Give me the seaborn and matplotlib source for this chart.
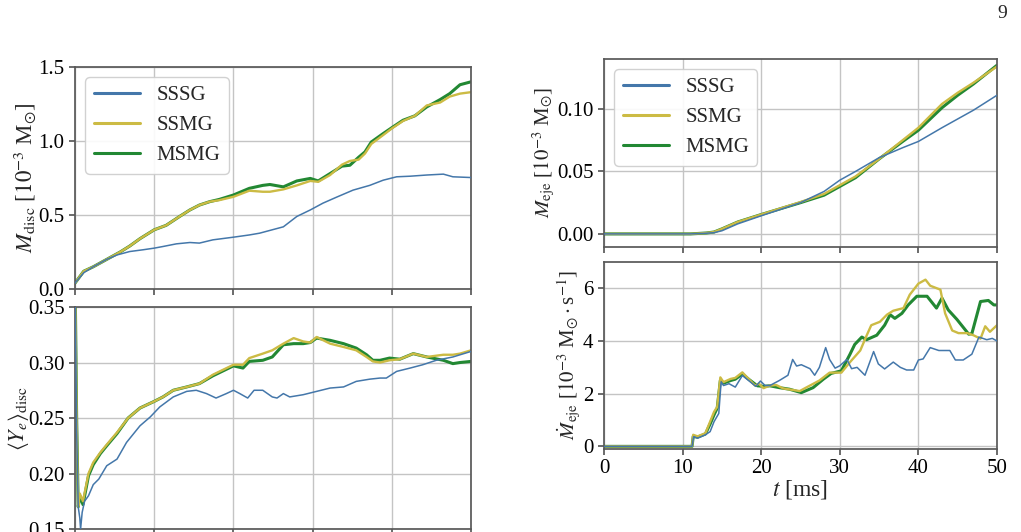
import matplotlib
matplotlib.use("Agg")
import numpy as np
import pandas as pd
import seaborn as sns
import matplotlib.pyplot as plt

# Colores y grosores de las tres simulaciones
colores = {"SSSG": "#4477AA", "SSMG": "#CCBB44", "MSMG": "#228833"}
grosores = {"SSSG": 1.1, "SSMG": 1.7, "MSMG": 2.2}
capas = {"SSSG": 3.0, "SSMG": 2.5, "MSMG": 2.0}

# ---------------- M_disc (arriba izquierda) ----------------
t_disc = [0, 1.1, 2.3, 4.0, 5.7, 6.9, 8.2, 10, 11.5, 13.2, 14.5, 15.7, 17, 18.2, 20, 22, 23.7,
          24.6, 26.3, 28, 29.7, 30.7, 32.2, 33.7, 34.7, 35.8, 36.6, 37.4, 38.9, 40, 41.4, 42.9,
          44.4, 46.1, 47.3, 48.6, 50]
mdisc_ssmg = [0.04, 0.12, 0.15, 0.20, 0.25, 0.29, 0.34, 0.40, 0.43, 0.49, 0.534, 0.567, 0.59,
              0.60, 0.623, 0.664, 0.657, 0.657, 0.673, 0.70, 0.73, 0.724, 0.77, 0.84, 0.865,
              0.874, 0.915, 0.98, 1.04, 1.085, 1.135, 1.17, 1.24, 1.26, 1.30, 1.32, 1.33]
mdisc_msmg = [0.04, 0.12, 0.15, 0.20, 0.25, 0.29, 0.34, 0.40, 0.43, 0.49, 0.534, 0.567, 0.59,
              0.605, 0.635, 0.68, 0.70, 0.706, 0.69, 0.73, 0.747, 0.73, 0.78, 0.83, 0.836, 0.89,
              0.926, 0.993, 1.05, 1.09, 1.14, 1.17, 1.23, 1.28, 1.32, 1.38, 1.40]
t_disc_sssg = [0, 1.1, 2.3, 4.0, 5.3, 6.9, 8.6, 10, 11.1, 12.8, 14.5, 15.7, 17.4, 20, 22, 23.3,
               24.9, 26.3, 28, 29.7, 31.3, 33, 35.1, 37.2, 38.9, 40.6, 42.3, 44.4, 46.5, 47.7, 50]
mdisc_sssg = [0.04, 0.11, 0.15, 0.20, 0.23, 0.253, 0.265, 0.276, 0.287, 0.305, 0.314, 0.31,
              0.332, 0.35, 0.365, 0.377, 0.40, 0.42, 0.49, 0.534, 0.58, 0.62, 0.668, 0.70, 0.735,
              0.758, 0.762, 0.77, 0.776, 0.758, 0.753]

# ---------------- <Ye>_disc (abajo izquierda) ----------------
t_ye = [0, 0.2, 0.4, 0.6, 1.0, 1.7, 2.3, 3.2, 4.0, 5.3, 6.7, 8.2, 10, 11.1, 12.4, 14.1, 15.7,
        17.4, 20, 21.2, 22, 23.7, 24.9, 26.3, 27.6, 28.8, 29.7, 30.5, 32.2, 33.9, 35.5, 36.8,
        37.6, 38.5, 39.7, 41, 42.7, 44.4, 46.5, 47.7, 48.6, 50]
ye_ssmg = [0.38, 0.25, 0.17, 0.182, 0.175, 0.20, 0.21, 0.219, 0.226, 0.237, 0.25, 0.259, 0.265,
           0.269, 0.275, 0.278, 0.281, 0.289, 0.298, 0.298, 0.304, 0.308, 0.311, 0.317, 0.322,
           0.319, 0.318, 0.323, 0.317, 0.314, 0.311, 0.305, 0.301, 0.30, 0.302, 0.303, 0.308,
           0.305, 0.307, 0.307, 0.308, 0.311]
ye_msmg = [0.38, 0.25, 0.17, 0.18, 0.172, 0.198, 0.208, 0.218, 0.225, 0.236, 0.25, 0.259, 0.265,
           0.269, 0.275, 0.278, 0.281, 0.288, 0.297, 0.295, 0.301, 0.302, 0.305, 0.316, 0.317,
           0.317, 0.318, 0.322, 0.320, 0.317, 0.313, 0.307, 0.302, 0.302, 0.304, 0.303, 0.308,
           0.305, 0.302, 0.299, 0.30, 0.301]
t_ye_sssg = [0, 0.2, 0.4, 0.6, 0.7, 0.9, 1.2, 1.7, 2.3, 3.0, 4.0, 5.3, 6.5, 8.2, 9.5, 10.7, 12.4,
             14.1, 15.3, 16.6, 17.8, 19.1, 20, 20.8, 21.8, 22.6, 23.7, 24.9, 25.5, 26.3, 27.1,
             28.8, 30.5, 32.2, 33.9, 35.5, 37.2, 38.5, 39.3, 40.6, 42.3, 43.9, 45.6, 47.7, 50]
ye_sssg = [0.38, 0.24, 0.17, 0.16, 0.15, 0.165, 0.175, 0.18, 0.19, 0.195, 0.207, 0.213, 0.228,
           0.243, 0.251, 0.26, 0.269, 0.274, 0.275, 0.272, 0.268, 0.272, 0.275, 0.272, 0.268,
           0.275, 0.275, 0.269, 0.268, 0.272, 0.269, 0.271, 0.274, 0.277, 0.278, 0.283, 0.285,
           0.286, 0.286, 0.292, 0.295, 0.298, 0.302, 0.305, 0.31]

# ---------------- M_eje (arriba derecha) ----------------
t_eje = [0, 5, 11, 13, 14, 15, 17, 20, 25, 28, 30, 32, 35, 38, 40, 43, 45, 47, 50]
meje_sssg = [0, 0, 0, 0.0005, 0.001, 0.0025, 0.008, 0.0145, 0.025, 0.034, 0.043, 0.05, 0.061,
             0.069, 0.074, 0.085, 0.092, 0.099, 0.111]
meje_ssmg = [0, 0, 0, 0.0007, 0.0015, 0.004, 0.0095, 0.0155, 0.0255, 0.032, 0.039, 0.046, 0.060,
             0.075, 0.085, 0.104, 0.113, 0.121, 0.134]
meje_msmg = [0, 0, 0, 0.0007, 0.0015, 0.004, 0.0095, 0.0155, 0.025, 0.031, 0.038, 0.045, 0.060,
             0.074, 0.083, 0.101, 0.111, 0.120, 0.135]

# ---------------- dM_eje/dt (abajo derecha) ----------------
t_dot_sssg = [0, 11.2, 11.4, 11.9, 12.9, 13.5, 14.0, 14.6, 14.9, 15.2, 15.9, 16.7, 17.6, 18.4,
              19.3, 19.9, 20.5, 21.1, 22.3, 23.4, 24.0, 24.5, 25.1, 26.2, 26.8, 27.4, 28.2, 28.7,
              29.4, 30.0, 30.9, 31.5, 32.2, 33.2, 34.3, 34.9, 35.7, 36.8, 37.7, 38.5, 39.4, 40.0,
              40.6, 41.5, 42.6, 44.0, 44.7, 45.7, 46.8, 47.7, 48.7, 49.4, 50]
mdot_sssg = [0, 0, 0.37, 0.31, 0.44, 0.56, 0.94, 1.25, 2.45, 2.31, 2.38, 2.25, 2.69, 2.5, 2.28,
             2.48, 2.31, 2.31, 2.5, 2.7, 3.3, 3.05, 3.1, 2.95, 2.7, 3.0, 3.75, 3.3, 2.97, 3.06,
             3.3, 2.95, 3.0, 2.7, 3.6, 3.13, 2.94, 3.2, 3.0, 2.9, 2.9, 3.28, 3.32, 3.75, 3.64,
             3.64, 3.28, 3.28, 3.5, 4.15, 4.05, 4.1, 4.0]
t_dot_ssmg = [0, 11.2, 11.35, 11.9, 12.9, 13.5, 14.0, 14.4, 14.8, 15.2, 16.1, 16.7, 17.6, 18.4,
              19.2, 19.7, 20.3, 21.1, 21.9, 22.8, 24.9, 25.7, 27.4, 28.7, 30.2, 31.3, 32.6, 33.4,
              34.0, 35.1, 36.0, 36.8, 38.1, 38.9, 40.0, 40.9, 41.5, 42.8, 43.4, 44.3, 45.1, 46.2,
              47.0, 47.9, 48.5, 49.1, 50]
mdot_ssmg = [0, 0, 0.44, 0.38, 0.5, 0.94, 1.31, 1.5, 2.62, 2.44, 2.56, 2.6, 2.81, 2.56, 2.31,
             2.38, 2.21, 2.31, 2.33, 2.2, 2.1, 2.23, 2.5, 2.8, 2.8, 3.2, 3.64, 4.2, 4.6, 4.73,
             5.0, 5.15, 5.25, 5.76, 6.18, 6.33, 6.1, 5.95, 5.05, 4.4, 4.3, 4.3, 4.22, 4.09, 4.56,
             4.35, 4.6]
t_dot_msmg = [0, 11.2, 11.35, 11.9, 12.9, 13.5, 14.0, 14.4, 14.8, 15.2, 16.1, 16.7, 17.6, 18.4,
              19.5, 20.3, 21.1, 22.3, 23.6, 25.1, 26.6, 27.9, 28.9, 30.2, 31.3, 31.9, 32.8, 33.4,
              34.7, 35.7, 36.4, 37.0, 37.9, 38.7, 39.8, 41.1, 42.3, 43.0, 43.8, 44.9, 46.4, 46.8,
              47.9, 48.9, 49.6, 50]
mdot_msmg = [0, 0, 0.38, 0.35, 0.47, 0.85, 1.2, 1.45, 2.5, 2.4, 2.5, 2.55, 2.75, 2.55, 2.3,
             2.28, 2.3, 2.23, 2.17, 2.04, 2.23, 2.55, 2.77, 2.87, 3.5, 3.87, 4.15, 4.05, 4.22,
             4.6, 5.0, 4.86, 5.05, 5.37, 5.7, 5.7, 5.25, 5.63, 5.18, 4.82, 4.26, 4.28, 5.5, 5.54,
             5.37, 5.37]

sns.set_theme(style="ticks")
plt.rcParams["font.family"] = ["Liberation Serif", "DejaVu Serif"]
plt.rcParams["mathtext.fontset"] = "stix"
plt.rcParams["axes.edgecolor"] = "0.35"
plt.rcParams["xtick.color"] = "0.35"
plt.rcParams["ytick.color"] = "0.35"
plt.rcParams["xtick.labelcolor"] = "black"
plt.rcParams["ytick.labelcolor"] = "black"

fig = plt.figure(figsize=(10.21, 5.32), dpi=100)
ax_md = fig.add_axes([0.0735, 0.4568, 0.3879, 0.4173])
ax_ye = fig.add_axes([0.0735, 0.0056, 0.3879, 0.4173])
ax_me = fig.add_axes([0.5916, 0.5357, 0.3849, 0.3534])
ax_dot = fig.add_axes([0.5916, 0.156, 0.3849, 0.3515])


def dibujar(ax, series, leyenda=False):
    for nombre, t, v in series:
        df = pd.DataFrame({"t": t, "v": v})
        sns.lineplot(data=df, x="t", y="v", ax=ax, color=colores[nombre],
                     lw=grosores[nombre], zorder=capas[nombre],
                     label=nombre if leyenda else None, estimator=None, legend=leyenda)
    ax.set_xlim(0, 50)
    ax.set_xticks(np.arange(0, 51, 10))
    ax.grid(True, color="#c4c4c4", lw=1.0)
    ax.tick_params(labelsize=15, length=4)
    ax.set_xlabel("")
    if leyenda:
        leg = ax.legend(loc="upper left", fontsize=15, handlelength=2.2,
                        edgecolor="#cccccc", framealpha=0.9)
        for linea in leg.get_lines():
            linea.set_linewidth(2.2)


dibujar(ax_md, [("SSSG", t_disc_sssg, mdisc_sssg), ("SSMG", t_disc, mdisc_ssmg),
                ("MSMG", t_disc, mdisc_msmg)], leyenda=True)
ax_md.set_ylim(0, 1.5)
ax_md.set_yticks([0, 0.5, 1.0, 1.5])
ax_md.set_yticklabels(["0.0", "0.5", "1.0", "1.5"])
ax_md.set_xticklabels([])
ax_md.set_ylabel(r"$M_{\rm disc}$ [$10^{-3}$ M$_{\odot}$]", fontsize=16.5)
ax_md.yaxis.set_label_coords(-0.094, 0.5)

dibujar(ax_ye, [("SSSG", t_ye_sssg, ye_sssg), ("SSMG", t_ye, ye_ssmg),
                ("MSMG", t_ye, ye_msmg)])
ax_ye.set_ylim(0.15, 0.35)
ax_ye.set_yticks([0.15, 0.20, 0.25, 0.30, 0.35])
ax_ye.set_yticklabels(["0.15", "0.20", "0.25", "0.30", "0.35"])
ax_ye.set_xticklabels([])
ax_ye.set_ylabel(r"$\langle Y_e \rangle_{\rm disc}$", fontsize=16)
ax_ye.yaxis.set_label_coords(-0.11, 0.5)

dibujar(ax_me, [("SSSG", t_eje, meje_sssg), ("SSMG", t_eje, meje_ssmg),
                ("MSMG", t_eje, meje_msmg)], leyenda=True)
ax_me.set_ylim(-0.0105, 0.14)
ax_me.set_yticks([0, 0.05, 0.10])
ax_me.set_yticklabels(["0.00", "0.05", "0.10"])
ax_me.set_xticklabels([])
ax_me.set_ylabel(r"$M_{\rm eje}$ [$10^{-3}$ M$_{\odot}$]", fontsize=15)
ax_me.yaxis.set_label_coords(-0.12, 0.5)

dibujar(ax_dot, [("SSSG", t_dot_sssg, mdot_sssg), ("SSMG", t_dot_ssmg, mdot_ssmg),
                 ("MSMG", t_dot_msmg, mdot_msmg)])
ax_dot.set_ylim(-0.1, 7)
ax_dot.set_yticks([0, 2, 4, 6])
ax_dot.set_xlabel(r"$t$ [ms]", fontsize=17, labelpad=0)
ax_dot.set_ylabel(r"$\dot{M}_{\rm eje}$ [$10^{-3}$ M$_{\odot}\cdot$s$^{-1}$]", fontsize=15)
ax_dot.yaxis.set_label_coords(-0.055, 0.5)

fig.text(0.982, 0.975, "9", fontsize=14, ha="center", va="center")

fig.savefig("out.png", dpi=100)
